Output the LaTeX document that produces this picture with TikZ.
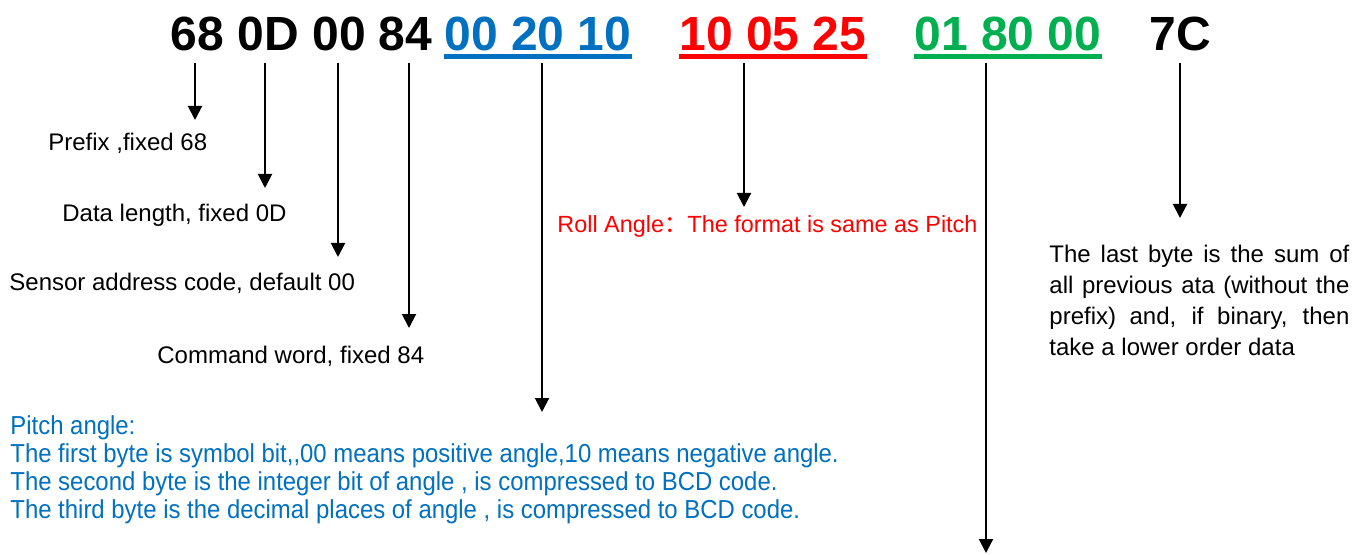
\documentclass[tikz,border=0pt]{standalone}
\usepackage{fontspec}
\setmainfont{Liberation Sans}
\newfontfamily\cjk{Noto Sans CJK SC}
\newfontfamily\narrowfont[FakeStretch=0.92]{Liberation Sans}
\usetikzlibrary{arrows.meta}

\definecolor{pitchblue}{RGB}{0,112,192}
\definecolor{rollred}{RGB}{255,0,0}
\definecolor{yawgreen}{RGB}{0,176,80}

\begin{document}
\begin{tikzpicture}[x=0.5pt, y=-0.5pt,
    byte/.style={font=\fontsize{24}{28}\selectfont\bfseries, inner sep=0pt, anchor=base west},
    note/.style={font=\fontsize{12}{14}\selectfont, inner sep=0pt, anchor=base west},
    arr/.style={-{Triangle[width=7pt,length=7pt]}, line width=1pt, shorten <=5.5pt},
    uline/.style={line width=2.5pt}]

    \fill[white] (0,0) rectangle (1352,555);
    \useasboundingbox (0,0) rectangle (1352,555);

    % frame bytes
    \node[byte] (h68) at (170,51) {68};
    \node[byte] (h0D) at (237,51) {0D};
    \node[byte] (h00) at (312,51) {00};
    \node[byte] (h84) at (378,51) {84};
    \node[byte, pitchblue] (pitch) at (444,51) {00 20 10};
    \node[byte, rollred] (roll) at (679,51) {10 05 25};
    \node[byte, yawgreen] (yaw) at (914,51) {01 80 00};
    \node[byte] (h7C) at (1149,51) {7C};

    \draw[uline, pitchblue] ([yshift=-2.5pt]pitch.south west) -- ([yshift=-2.5pt]pitch.south east);
    \draw[uline, rollred] ([yshift=-2.5pt]roll.south west) -- ([yshift=-2.5pt]roll.south east);
    \draw[uline, yawgreen] ([yshift=-2.5pt]yaw.south west) -- ([yshift=-2.5pt]yaw.south east);

    % arrow tips
    \coordinate (t68) at (195,120);
    \coordinate (t0D) at (265,188);
    \coordinate (t00) at (338,257);
    \coordinate (t84) at (409,328);
    \coordinate (tpitch) at (542,412);
    \coordinate (troll) at (744,207);
    \coordinate (tyaw) at (986,553);
    \coordinate (t7C) at (1180,218);

    \draw[arr] (h68.south -| t68) -- (t68);
    \draw[arr] (h0D.south -| t0D) -- (t0D);
    \draw[arr] (h00.south -| t00) -- (t00);
    \draw[arr] (h84.south -| t84) -- (t84);
    \draw[arr] (pitch.south -| tpitch) -- (tpitch);
    \draw[arr] (roll.south -| troll) -- (troll);
    \draw[arr] (yaw.south -| tyaw) -- (tyaw);
    \draw[arr] (h7C.south -| t7C) -- (t7C);

    % descriptions
    \node[note] (lprefix) at (48,151) {Prefix ,fixed 68};
    \node[note] (llength) at (62,222) {Data length, fixed 0D};
    \node[note] (laddr) at (9,291) {Sensor address code, default 00};
    \node[note] (lcmd) at (157,363) {Command word, fixed 84};
    \node[note, rollred, font=\fontsize{11.7}{14}\selectfont] (lroll) at (557,233)
        {Roll Angle{\cjk ：}The format is same as Pitch};

    \node[note, pitchblue, anchor=north west, align=left,
          font=\narrowfont\fontsize{13}{14}\selectfont] (lpitch) at (10,415)
        {Pitch angle:\\
         The first byte is symbol bit,,00 means positive angle,10 means negative angle.\\
         The second byte is the integer bit of angle , is compressed to BCD code.\\
         The third byte is the decimal places of angle , is compressed to BCD code.};

    \node[note, anchor=north west, align=left,
          font=\fontsize{12}{15.5}\selectfont] (lsum) at (1049,245)
        {\makebox[150pt][s]{The last byte is the sum of}\\
         \makebox[150pt][s]{all previous ata (without the}\\
         \makebox[150pt][s]{prefix) and, if binary, then}\\
         take a lower order data};
\end{tikzpicture}
\end{document}
